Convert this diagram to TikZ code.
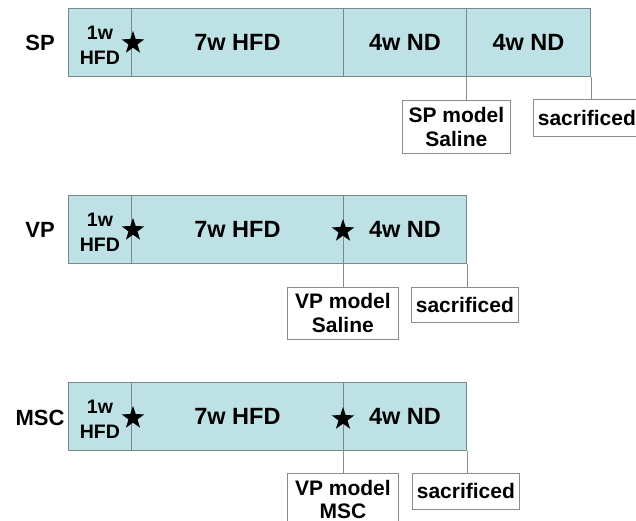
\documentclass[tikz,border=0pt]{standalone}
\usepackage{fontspec}
\setmainfont{Liberation Sans}
\usetikzlibrary{shapes.geometric}
\definecolor{barfill}{RGB}{189,225,229}
\definecolor{barline}{RGB}{118,138,140}
\definecolor{boxline}{RGB}{140,140,140}
\tikzset{
  seg/.style={draw=barline, fill=barfill, line width=0.9pt, minimum height=68pt,
    inner sep=0pt, anchor=north west, font=\bfseries\fontsize{23.5}{26}\selectfont},
  subseg/.style={seg, label={[align=center, inner sep=0pt, yshift=-3pt,
    font=\bfseries\fontsize{19.5}{25}\selectfont]center:#1}},
  rowlabel/.style={font=\bfseries\fontsize{22}{26}\selectfont, inner sep=0pt},
  infobox/.style={draw=boxline, fill=white, line width=0.8pt, anchor=north west, inner sep=0pt,
    align=center, font=\bfseries\fontsize{21}{24}\selectfont},
  conn/.style={draw=boxline, line width=0.8pt},
  mark star/.style={star, star points=5, star point ratio=2.55, fill=black, draw=none,
    minimum size=24pt, inner sep=0pt},
}
\begin{document}
\begin{tikzpicture}[x=1pt, y=-1pt]
\useasboundingbox (0,0) rectangle (636,521);
% ---------- SP ----------
\node[rowlabel] (splab) at (40,43) {SP};
\node[subseg={1w\\HFD}, minimum width=63pt] (spa) at (68,8) {};
\node[seg, minimum width=212pt] (spb) at (131,8) {7w HFD};
\node[seg, minimum width=123pt] (spc) at (343,8) {4w ND};
\node[seg, minimum width=124pt] (spd) at (466,8) {4w ND};
\node[mark star] (spstar) at (133,43) {};
\node[infobox, minimum width=108pt, minimum height=53pt] (spmodel) at (402,100) {SP model\\Saline};
\node[infobox, minimum width=107pt, minimum height=37pt] (spsac) at (533,99) {sacrificed};
\draw[conn] (spd.south west) -- (spmodel.north -| spd.south west);
\draw[conn] (spd.south east) -- (spsac.north -| spd.south east);
% ---------- VP ----------
\node[rowlabel] (vplab) at (40,230) {VP};
\node[subseg={1w\\HFD}, minimum width=63pt] (vpa) at (68,195) {};
\node[seg, minimum width=212pt] (vpb) at (131,195) {7w HFD};
\node[seg, minimum width=123pt] (vpc) at (343,195) {4w ND};
\node[mark star] (vpstar1) at (133,230) {};
\node[mark star] (vpstar2) at (343,231) {};
\node[infobox, minimum width=111pt, minimum height=52pt] (vpmodel) at (287,287) {VP model\\Saline};
\node[infobox, minimum width=107pt, minimum height=35pt] (vpsac) at (411,287) {sacrificed};
\draw[conn] (vpc.south west) -- (vpmodel.north -| vpc.south west);
\draw[conn] (vpc.south east) -- (vpsac.north -| vpc.south east);
% ---------- MSC ----------
\node[rowlabel] (msclab) at (40,418) {MSC};
\node[subseg={1w\\HFD}, minimum width=63pt] (msca) at (68,382) {};
\node[seg, minimum width=212pt] (mscb) at (131,382) {7w HFD};
\node[seg, minimum width=123pt] (mscc) at (343,382) {4w ND};
\node[mark star] (mscstar1) at (133,418) {};
\node[mark star] (mscstar2) at (343,419) {};
\node[infobox, minimum width=111pt, minimum height=53pt] (mscmodel) at (287,473) {VP model\\[-1pt]MSC};
\node[infobox, minimum width=107pt, minimum height=36pt] (mscsac) at (412,473) {sacrificed};
\draw[conn] (mscc.south west) -- (mscmodel.north -| mscc.south west);
\draw[conn] (mscc.south east) -- (mscsac.north -| mscc.south east);
\end{tikzpicture}
\end{document}
